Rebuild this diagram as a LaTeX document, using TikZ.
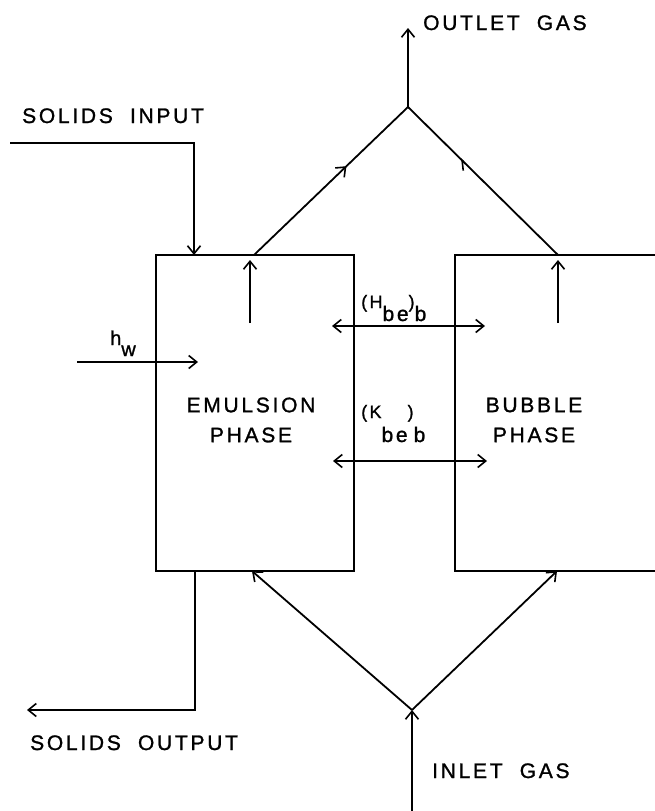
\documentclass[tikz,border=0pt]{standalone}
\usepackage{fontspec}
\setmainfont{Liberation Sans}[LetterSpace=13,FakeBold=1.2]
\usetikzlibrary{arrows.meta,decorations.markings}
\tikzset{
  ln/.style={line width=1.8pt},
  tip/.style={ln,-{Straight Barb[length=8pt,width=13pt,line width=1.6pt]}},
  dtip/.style={ln,{Straight Barb[length=8pt,width=13pt,line width=1.6pt]}-{Straight Barb[length=8pt,width=13pt,line width=1.6pt]}},
  phasebox/.style={draw,ln,rectangle,inner sep=0pt},
  lbl/.style={font=\fontsize{21}{30}\selectfont,inner sep=0pt,anchor=base west},
  sublbl/.style={font=\fontsize{20}{24}\selectfont,inner sep=0pt,anchor=base west},
  midfull/.style={postaction={decorate},decoration={markings,
     mark=at position #1 with {\arrow{Straight Barb[length=8pt,width=13pt,line width=1.6pt]}}}},
  midhalf/.style={postaction={decorate},decoration={markings,
     mark=at position #1 with {\arrow{Straight Barb[left,length=8pt,width=13pt,line width=1.6pt]}}}}
}
\begin{document}
\begin{tikzpicture}[x=1pt,y=-1pt]
\useasboundingbox (0,0) rectangle (655,811);
\clip (0,0) rectangle (655,811);
% boxes
\node[phasebox,minimum width=198pt,minimum height=316pt] (em) at (255,413) {};
\node[phasebox,minimum width=245pt,minimum height=316pt] (bu) at (577.5,413) {};
% phase texts
\node[font=\fontsize{21}{30}\selectfont,align=center,inner sep=0pt] (emt) at (251,420) {EMULSION\\PHASE};
\node[font=\fontsize{21}{30}\selectfont,align=center,inner sep=0pt] (but) at (534,420) {BUBBLE\\PHASE};
% coordinates
\coordinate (apex) at (408,107);
\coordinate (outtip) at (408,28);
\coordinate (emtop) at (254,255);
\coordinate (butop) at (558,255);
\coordinate (junc) at (412,710);
\coordinate (inbot) at (412,815);
\coordinate (embot) at (252,571);
\coordinate (bubot) at (557,571);
\coordinate (sin0) at (10,143);
\coordinate (sin1) at (194,143);
\coordinate (sin2) at (194,255);
\coordinate (sout0) at (195,571);
\coordinate (sout1) at (195,710);
\coordinate (sout2) at (27,710);
\coordinate (hw0) at (77,362);
\coordinate (hw1) at (198,362);
\coordinate (h0) at (332,326);
\coordinate (h1) at (485,326);
\coordinate (k0) at (333,461);
\coordinate (k1) at (487,461);
\coordinate (ea0) at (250,323);
\coordinate (ea1) at (250,260);
\coordinate (ba0) at (558,323);
\coordinate (ba1) at (558,260);
% gas flow top
\draw[ln,midfull=0.6] (emtop) -- (apex);
\draw[ln,midhalf=0.65] (butop) -- (apex);
\draw[tip] (apex) -- (outtip);
% gas flow bottom
\draw[tip] (inbot) -- (junc);
\draw[tip] (junc) -- (embot);
\draw[tip] (junc) -- (bubot);
% inner arrows
\draw[tip] (ea0) -- (ea1);
\draw[tip] (ba0) -- (ba1);
% solids
\draw[tip] (sin0) -- (sin1) -- (sin2);
\draw[tip] (sout0) -- (sout1) -- (sout2);
% heat and mass exchange
\draw[tip] (hw0) -- (hw1);
\draw[dtip] (h0) -- (h1);
\draw[dtip] (k0) -- (k1);
% labels
\node[lbl] (lsi) at (22,123) {SOLIDS\ \ INPUT};
\node[lbl] (log) at (423,30) {OUTLET\ \ GAS};
\node[lbl] (lso) at (30,750) {SOLIDS\ \ OUTPUT};
\node[lbl] (lig) at (432,778) {INLET\ \ GAS};
\node[sublbl] (lhw) at (110,345) {h\raisebox{-11pt}{w}};
\node[sublbl,font=\fontsize{18}{24}\selectfont] (lh) at (361,308) {(H\raisebox{-13pt}{\fontsize{21}{24}\selectfont be})\raisebox{-13pt}{\fontsize{21}{24}\selectfont b}};
\node[sublbl,font=\fontsize{18}{24}\selectfont] (lk) at (361,418) {(K\raisebox{-24pt}{\fontsize{21}{24}\selectfont be})\raisebox{-24pt}{\fontsize{21}{24}\selectfont b}};
\end{tikzpicture}
\end{document}
